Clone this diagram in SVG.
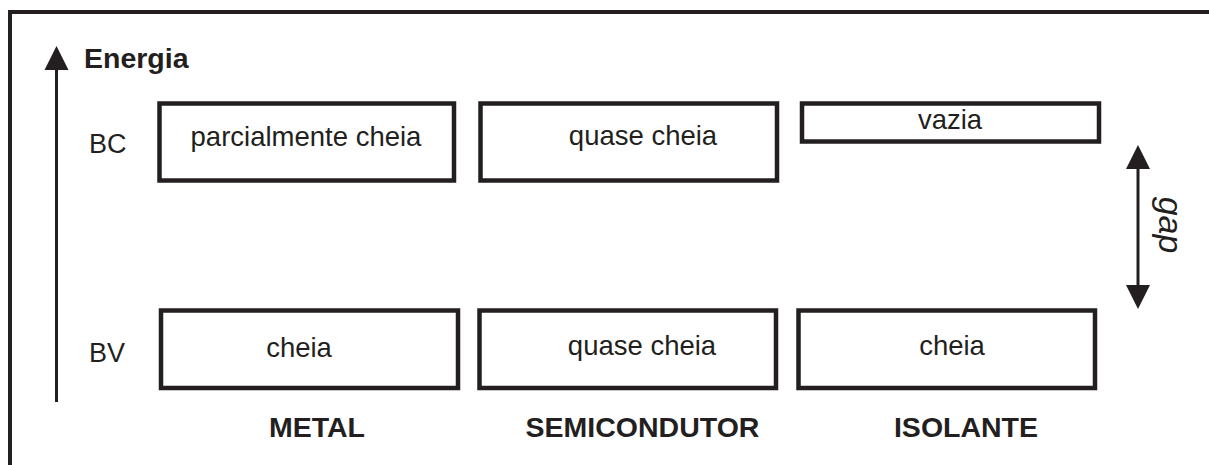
<svg xmlns="http://www.w3.org/2000/svg" width="1209" height="465" viewBox="0 0 1209 465">
<style>
.box{fill:#fff;stroke:#231f20;stroke-width:4.5}
.t{font-family:"Liberation Sans",Arial,sans-serif;fill:#231f20;font-size:27.5px;text-anchor:middle}
.lb{font-family:"Liberation Sans",Arial,sans-serif;fill:#231f20;font-size:27px}
.b{font-family:"Liberation Sans",Arial,sans-serif;fill:#231f20;font-size:28.5px;font-weight:bold;text-anchor:middle}
.ln{stroke:#231f20;stroke-width:3;fill:none}
.ah{fill:#231f20}
</style>
<rect width="1209" height="465" fill="#fff"/>
<rect x="10" y="12" width="1220" height="480" fill="none" stroke="#231f20" stroke-width="4"/>
<g id="axis">
<line class="ln" x1="56.5" y1="402" x2="56.5" y2="66"/>
<polygon class="ah" points="56.5,46 44.5,70 68.5,70"/>
<text class="lb" x="84" y="68" font-weight="bold" style="font-size:28.5px">Energia</text>
</g>
<g id="labels">
<text class="lb" x="89" y="153">BC</text>
<text class="lb" x="89" y="362">BV</text>
</g>
<g id="metal-bc"><rect class="box" x="159.5" y="103.5" width="294.5" height="77"/><text class="t" x="306" y="146">parcialmente cheia</text></g>
<g id="semi-bc"><rect class="box" x="480.5" y="103.5" width="296.5" height="77"/><text class="t" x="643" y="145">quase cheia</text></g>
<g id="iso-bc"><rect class="box" x="802" y="103.5" width="297" height="38"/><text class="t" x="950" y="129">vazia</text></g>
<g id="metal-bv"><rect class="box" x="161" y="310.5" width="297" height="77.5"/><text class="t" x="299" y="357">cheia</text></g>
<g id="semi-bv"><rect class="box" x="479.5" y="310.5" width="296.5" height="77.5"/><text class="t" x="642" y="355">quase cheia</text></g>
<g id="iso-bv"><rect class="box" x="798.5" y="310.5" width="296.5" height="77.5"/><text class="t" x="952" y="355">cheia</text></g>
<g id="connectors">
<line class="ln" x1="1138" y1="165" x2="1138" y2="289"/>
<polygon class="ah" points="1138,145 1126,169 1150,169"/>
<polygon class="ah" points="1138,309 1126,285 1150,285"/>
<text class="t" transform="translate(1159,225) rotate(90)" style="font-size:34px;font-style:italic">gap</text>
</g>
<g id="titles">
<text class="b" x="317" y="437">METAL</text>
<text class="b" x="642.5" y="437">SEMICONDUTOR</text>
<text class="b" x="966" y="437">ISOLANTE</text>
</g>
</svg>
